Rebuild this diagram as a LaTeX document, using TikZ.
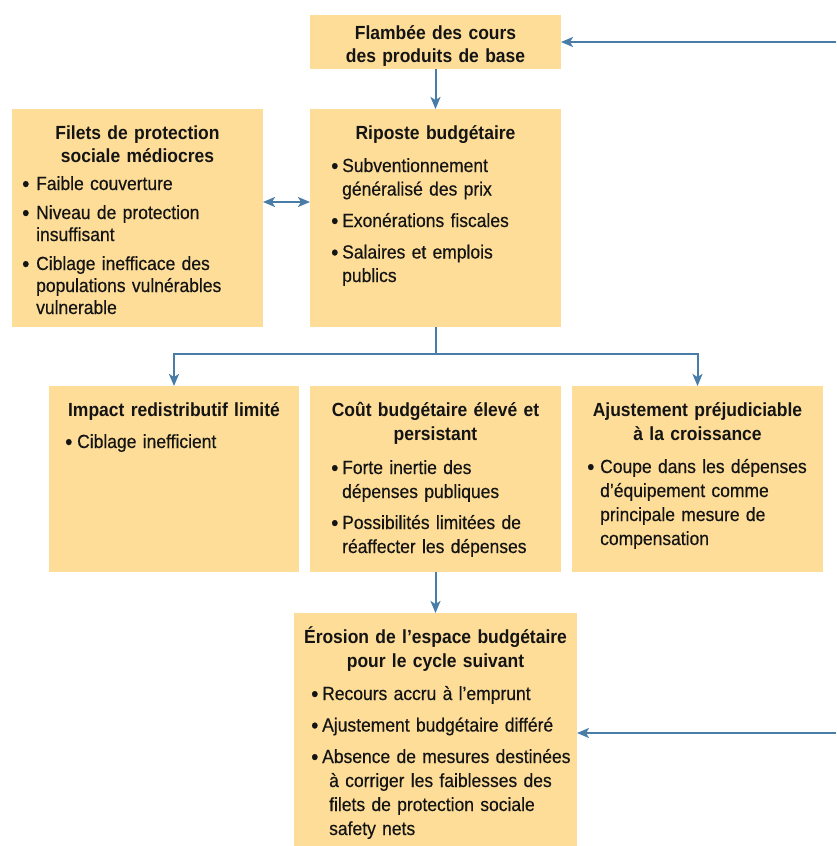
\documentclass[tikz,border=0pt]{standalone}
\usepackage{fontspec}
\setmainfont{Liberation Sans}[FakeStretch=0.92,WordSpace=0.85,UprightFeatures={FakeBold=0.4}]
\usetikzlibrary{arrows.meta}

\definecolor{boxfill}{RGB}{253,221,152}
\definecolor{arrowblue}{RGB}{74,124,168}
\definecolor{inkblack}{RGB}{20,20,20}

% bullet lists: a dot in a box of width \dotw, and the matching indent
\newlength\dotw
\newcommand\itemdot{\makebox[\dotw][l]{\hspace*{-1pt}\raisebox{-1.5pt}{\scalebox{1.18}{•}}}}
\newcommand\itemind{\hspace*{\dotw}}

\tikzset{
  box/.style={fill=boxfill, draw=none, inner sep=0pt, outer sep=0pt, anchor=north west},
  ttl/.style={anchor=base, text width=280pt, align=center, inner sep=0pt, text=inkblack,
    font=\bfseries\fontsize{19}{#1}\selectfont},
  ttl/.default=24pt,
  lst/.style={anchor=base west, text width=300pt, align=left, inner sep=0pt, text=inkblack,
    font=\fontsize{19}{#1}\selectfont},
  lst/.default=24pt,
  arr/.style={draw=arrowblue, line width=2pt,
    -{Stealth[length=12pt,width=10pt,inset=3pt]}},
  dblarr/.style={draw=arrowblue, line width=2pt,
    {Stealth[length=12pt,width=10pt,inset=3pt]}-{Stealth[length=12pt,width=10pt,inset=3pt]}},
}

\begin{document}
\begin{tikzpicture}[x=1pt,y=-1pt]
\useasboundingbox (0,0) rectangle (836,846);

% boxes
\node[box, minimum width=251pt, minimum height=54pt]  (flambee) at (310,15)  {};
\node[box, minimum width=251pt, minimum height=218pt] (filets)  at (12,109)  {};
\node[box, minimum width=251pt, minimum height=218pt] (riposte) at (310,109) {};
\node[box, minimum width=250pt, minimum height=186pt] (impact)  at (49,386)  {};
\node[box, minimum width=251pt, minimum height=186pt] (cout)    at (310,386) {};
\node[box, minimum width=251pt, minimum height=186pt] (ajust)   at (572,386) {};
\node[box, minimum width=283pt, minimum height=233pt] (erosion) at (294,613) {};

% titles
\node[ttl=23pt] (flambeeT) at (435.5,39)  {Flambée des cours\\des produits de base};
\node[ttl=23pt] (filetsT)  at (137.5,139) {Filets de protection\\sociale médiocres};
\node[ttl]      (riposteT) at (435.5,139) {Riposte budgétaire};
\node[ttl]      (impactT)  at (174,416)   {Impact redistributif limité};
\node[ttl]      (coutT)    at (435.5,416) {Coût budgétaire élevé et\\persistant};
\node[ttl]      (ajustT)   at (697.5,416) {Ajustement préjudiciable\\à la croissance};
\node[ttl]      (erosionT) at (435.5,643) {Érosion de l’espace budgétaire\\pour le cycle suivant};

% bullet lists
\node[lst=22pt] (filetsL) at (23,190) {\setlength\dotw{13pt}%
  \itemdot Faible couverture\\[7pt]
  \itemdot Niveau de protection\\
  \itemind insuffisant\\[7pt]
  \itemdot Ciblage inefficace des\\
  \itemind populations vulnérables\\
  \itemind vulnerable};
\node[lst=23.5pt] (riposteL) at (332,172) {\setlength\dotw{10pt}%
  \itemdot Subventionnement\\
  \itemind généralisé des prix\\[8pt]
  \itemdot Exonérations fiscales\\[8pt]
  \itemdot Salaires et emplois\\
  \itemind publics};
\node[lst] (impactL) at (66,448) {\setlength\dotw{11pt}%
  \itemdot Ciblage inefficient};
\node[lst] (coutL) at (332,474) {\setlength\dotw{10pt}%
  \itemdot Forte inertie des\\
  \itemind dépenses publiques\\[7pt]
  \itemdot Possibilités limitées de\\
  \itemind réaffecter les dépenses};
\node[lst] (ajustL) at (588,473) {\setlength\dotw{12pt}%
  \itemdot Coupe dans les dépenses\\
  \itemind d’équipement comme\\
  \itemind principale mesure de\\
  \itemind compensation};
\node[lst] (erosionL) at (312,700) {\setlength\dotw{10pt}%
  \itemdot Recours accru à l’emprunt\\[7.5pt]
  \itemdot Ajustement budgétaire différé\\[7.5pt]
  \itemdot Absence de mesures destinées\\
  \itemind\hspace*{7pt}à corriger les faiblesses des\\
  \itemind\hspace*{7pt}filets de protection sociale\\
  \itemind\hspace*{7pt}safety nets};

% connectors
\coordinate (feedTop) at (836,42);
\coordinate (feedLow) at (836,733);

\draw[arr] (feedTop) -- (flambee.east);
\draw[arr] (flambee.south) -- (riposte.north);
\draw[dblarr] ([yshift=16pt]filets.east) -- ([yshift=16pt]riposte.west);
\draw[arr] (riposte.south) -- ++(0,27) -| (impact.north);
\draw[arr] (riposte.south) -- ++(0,27) -| (ajust.north);
\draw[arr] (cout.south) -- (erosion.north);
\draw[arr] (feedLow) -- (erosion.east |- feedLow);
\end{tikzpicture}
\end{document}
